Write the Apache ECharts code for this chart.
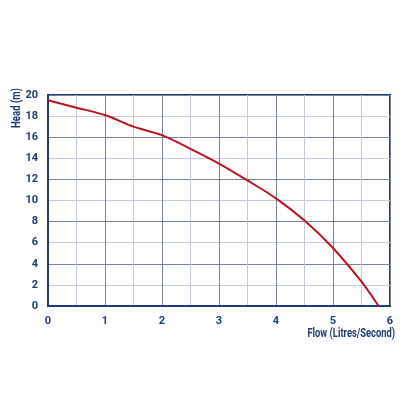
<!DOCTYPE html>
<html><head><meta charset="utf-8">
<script src="https://cdn.jsdelivr.net/npm/echarts@6/dist/echarts.min.js"></script>
<style>html,body{margin:0;padding:0;background:#fff}#c{width:416px;height:416px}</style>
</head><body><div id="c"></div>
<script>
var flow = [0, 0.5, 1, 1.5, 2, 2.5, 3, 3.5, 4, 4.5, 5, 5.5, 5.8];
var head = [19.5, 18.8, 18.1, 17.0, 16.2, 14.9, 13.5, 11.9, 10.2, 8.1, 5.5, 2.3, 0];
var xTicks = [0, 1, 2, 3, 4, 5, 6];
var yTicks = [0, 2, 4, 6, 8, 10, 12, 14, 16, 18, 20];
var xName = 'Flow (Litres/Second)';
var yName = 'Head (m)';
var navy = '#1e3b74', dark = '#77819f', light = '#c3c8dc';
var font = 'Roboto, sans-serif';
var chart = echarts.init(document.getElementById('c'));
chart.setOption({
  animation: false,
  grid: {left: 48, right: 26, top: 95, bottom: 110, show: true, borderColor: navy, borderWidth: 2, backgroundColor: 'transparent'},
  graphic: [{
    type: 'text', x: 17, y: 108, rotation: Math.PI / 2, scaleX: 0.8,
    style: {text: yName, fill: navy, font: 'bold 12px ' + font, align: 'center', verticalAlign: 'middle'}
  }, {
    type: 'text', x: 395, y: 334, scaleX: 0.78,
    style: {text: xName, fill: navy, font: 'bold 12px ' + font, align: 'right', verticalAlign: 'middle'}
  }],
  xAxis: {
    type: 'value', min: xTicks[0], max: xTicks[xTicks.length - 1], interval: 1,
    axisLine: {show: true, lineStyle: {color: navy, width: 2}},
    axisTick: {show: false},
    axisLabel: {color: navy, fontFamily: font, fontWeight: 'bold', fontSize: 11, margin: 10},
    splitLine: {show: true, lineStyle: {color: dark, width: 1}},
    minorTick: {show: false, splitNumber: 2},
    minorSplitLine: {show: true, lineStyle: {color: light, width: 1}}
  },
  yAxis: {
    type: 'value', min: yTicks[0], max: yTicks[yTicks.length - 1], interval: 2,
    axisLine: {show: true, lineStyle: {color: navy, width: 2}},
    axisTick: {show: false},
    axisLabel: {color: navy, fontFamily: font, fontWeight: 'bold', fontSize: 11, margin: 10},
    splitLine: {show: true, lineStyle: {color: [dark, light], width: 1}}
  },
  series: [{
    type: 'line', smooth: 0.3, symbol: 'none',
    data: flow.map(function (f, i) { return [f, head[i]]; }),
    lineStyle: {color: '#b81420', width: 2}
  }]
});
</script></body></html>
